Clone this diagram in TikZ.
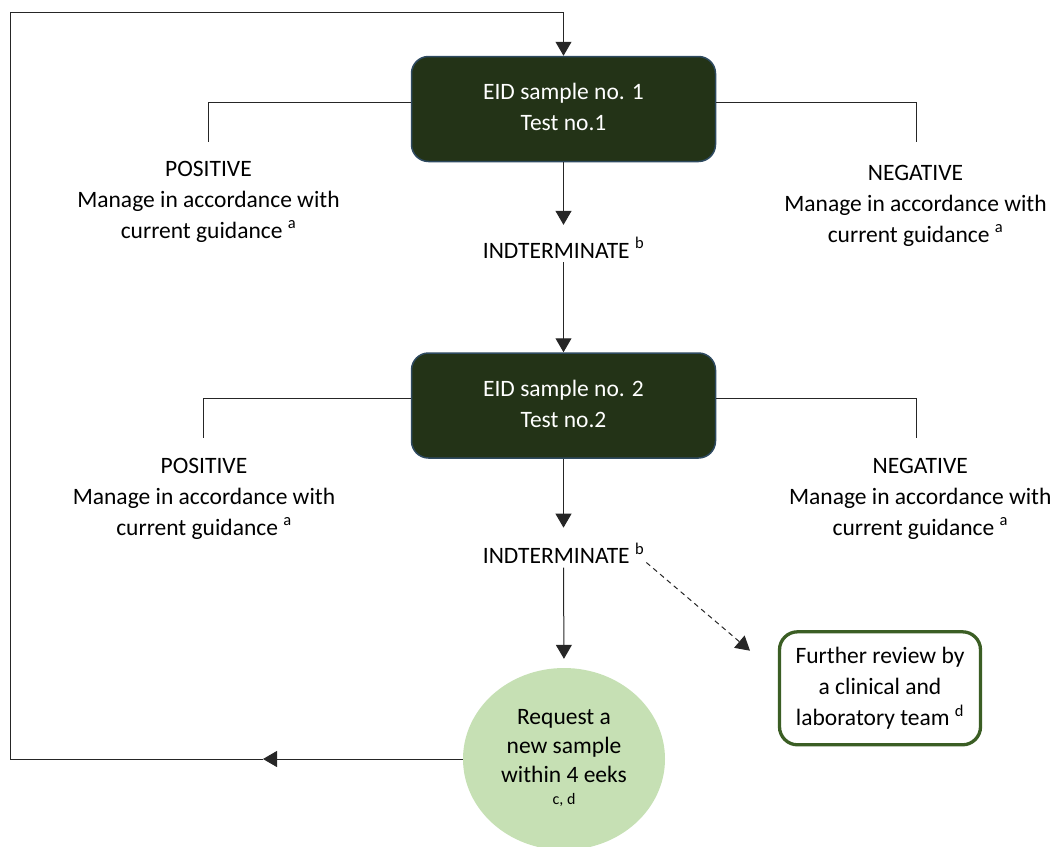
\documentclass[tikz,border=0pt]{standalone}
\usepackage{fontspec}
\setmainfont{Carlito}
\usetikzlibrary{arrows.meta,shapes.geometric}
\definecolor{boxfill}{HTML}{233317}
\definecolor{boxedge}{HTML}{2E4A60}
\definecolor{circfill}{HTML}{C6E0B4}
\definecolor{revedge}{HTML}{3B5E24}
\newcommand{\mlines}[1]{\begin{tabular}[t]{@{}c@{}}#1\end{tabular}}
\begin{document}
\begin{tikzpicture}[x=1pt,y=-1pt,
  font=\fontsize{23.5}{31}\selectfont,
  eidbox/.style={draw=boxedge, line width=1.5pt, fill=boxfill, rounded corners=17pt,
    minimum width=304pt, minimum height=105pt, text=white, inner sep=0pt},
  lbl/.style={anchor=base, inner sep=0pt},
  conn/.style={line width=1pt, draw=black!85},
  arr/.style={conn, -{Triangle[length=14pt,width=16pt]}},
  darr/.style={arr, dash pattern=on 5pt off 4pt},
]
\useasboundingbox (0,0) rectangle (1057,846);
\begin{scope}
\clip (0,0) rectangle (1057,846);
\node[ellipse, fill=circfill, minimum width=202pt, minimum height=182pt, inner sep=0pt] (circ) at (564,759)
  {\fontsize{23.5}{29}\selectfont\begin{tabular}[t]{@{}c@{}}Request a\\ new sample\\ within 4 eeks\\[-7pt] {\fontsize{16}{16}\selectfont c, d}\end{tabular}};
\end{scope}

\node[eidbox] (b1) at (563.5,109) {\mlines{EID sample no. 1\\ Test no.1}};
\node[eidbox] (b2) at (563.5,405.5) {\mlines{EID sample no. 2\\ Test no.2}};

\node[lbl] (pos1) at (208.5,176) {\mlines{POSITIVE\\ Manage in accordance with\\ current guidance \textsuperscript{a}}};
\node[lbl] (neg1) at (915.5,180) {\mlines{NEGATIVE\\ Manage in accordance with\\ current guidance \textsuperscript{a}}};
\node[lbl] (pos2) at (204,473) {\mlines{POSITIVE\\ Manage in accordance with\\ current guidance \textsuperscript{a}}};
\node[lbl] (neg2) at (920.3,473) {\mlines{NEGATIVE\\ Manage in accordance with\\ current guidance \textsuperscript{a}}};

\node[lbl] (ind1) at (563.5,258) {INDTERMINATE \textsuperscript{b}};
\node[lbl] (ind2) at (563.5,563.3) {INDTERMINATE \textsuperscript{b}};

\node[draw=revedge, line width=3.3pt, rounded corners=18pt, minimum width=201pt, minimum height=113pt, inner sep=0pt] (rev) at (880,688.3)
  {\mlines{Further review by\\ a clinical and\\ laboratory team \textsuperscript{d}}};

% branch end points
\coordinate (p1) at (208.5,141.7);
\coordinate (n1) at (916.7,141.7);
\coordinate (p2) at (203.7,438);
\coordinate (n2) at (916.7,438);
\draw[conn] ([yshift=7pt]b1.west) -| (p1);
\draw[conn] ([yshift=7pt]b1.east) -| (n1);
\draw[conn] ([yshift=7.5pt]b2.west) -| (p2);
\draw[conn] ([yshift=7.5pt]b2.east) -| (n2);

% main flow
\draw[arr] (b1.south) -- ([yshift=12.5pt]ind1.north);
\draw[arr] ([yshift=-4pt]ind1.south) -- (b2.north);
\draw[arr] (b2.south) -- ([yshift=15pt]ind2.north);
\draw[arr, shorten >=9pt] ([yshift=-4pt]ind2.south) -- (circ.north);

% dashed branch
\coordinate (revin) at (750,650.7);
\draw[darr] ([xshift=2pt,yshift=1pt]ind2.south east) -- (revin);

% loop back
\coordinate (loopmid) at (263,759);
\coordinate (cL) at (10,759);
\coordinate (cT) at (10,12);
\draw[arr] (circ.west) -- (loopmid);
\draw[arr] (loopmid) -- (cL) -- (cT) -| (b1.north);
\end{tikzpicture}
\end{document}
